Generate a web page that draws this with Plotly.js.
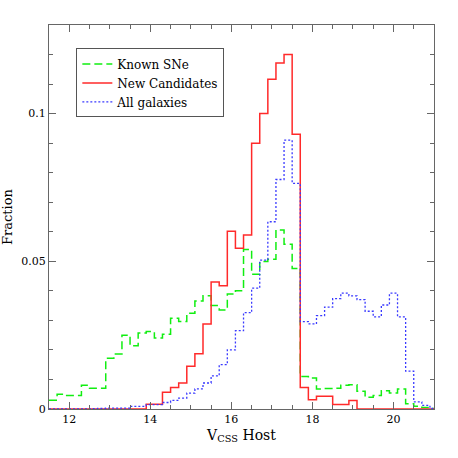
<!DOCTYPE html>
<html>
<head>
<meta charset="utf-8">
<script src="https://cdn.plot.ly/plotly-3.0.1.min.js"></script>
<style>
  body { margin: 0; background: #fff; }
  #grafico { width: 458px; height: 458px; }
</style>
</head>
<body>
<div id="grafico"></div>
<script>
// histogram bins: start and width in V_CSS magnitudes
const binStart = 11.5;
const binWidth = 0.2;

const serieNombres = ["Known SNe", "New Candidates", "All galaxies"];

// fraction per bin (bins from 11.5 to 21.1)
const knownSNe = [
  0.003, 0.005, 0.0046, 0.0046, 0.008, 0.007, 0.007, 0.0172, 0.0186, 0.025,
  0.0214, 0.0257, 0.0262, 0.024, 0.0253, 0.0307, 0.0296, 0.0324, 0.0366, 0.0383,
  0.035, 0.0335, 0.0389, 0.040, 0.054, 0.0456, 0.0499, 0.0507, 0.0606, 0.0558,
  0.0476, 0.011, 0.0105, 0.0068, 0.0069, 0.007, 0.008, 0.0082, 0.006, 0.004,
  0.0046, 0.0062, 0.0054, 0.0068, 0.0018, 0.0009, 0.0005, 0.0002
];
const newCandidates = [
  0, 0, 0, 0, 0, 0, 0, 0, 0, 0,
  0, 0, 0.0016, 0.0016, 0.0057, 0.0073, 0.0088, 0.0145, 0.0187, 0.0288,
  0.043, 0.0417, 0.0602, 0.0544, 0.0589, 0.090, 0.100, 0.1116, 0.1171, 0.120,
  0.093, 0.0073, 0.0031, 0.0043, 0.0043, 0.0015, 0.0015, 0.0029, 0, 0,
  0, 0, 0, 0, 0, 0, 0, 0
];
const allGalaxies = [
  0, 0, 0, 0, 0, 0.0001, 0.0002, 0.0003, 0.0003, 0.0003,
  0.0009, 0.0009, 0.0015, 0.0015, 0.0022, 0.0029, 0.0037, 0.0054, 0.0068, 0.0088,
  0.0112, 0.015, 0.020, 0.0265, 0.0326, 0.0409, 0.0504, 0.0634, 0.0777, 0.091,
  0.0764, 0.0296, 0.0288, 0.0316, 0.0345, 0.0374, 0.0392, 0.0383, 0.037, 0.0331,
  0.0312, 0.0352, 0.0392, 0.0312, 0.0128, 0.0024, 0.0012, 0.0002
];

function escalon(valores) {
  // x = bin edges, y = value of the bin on the right of each edge
  const x = valores.map((_, i) => binStart + i * binWidth);
  x.push(binStart + valores.length * binWidth);
  const y = valores.concat([valores[valores.length - 1]]);
  return { x: x, y: y };
}

const fuente = "DejaVu Serif, serif";

const s1 = escalon(knownSNe);
const s2 = escalon(newCandidates);
const s3 = escalon(allGalaxies);

const trazado = [
  {
    x: s1.x, y: s1.y, type: 'scatter', mode: 'lines', name: serieNombres[0],
    line: { shape: 'hv', color: '#11ee11', width: 1.5, dash: '8px,4px' }
  },
  {
    x: s2.x, y: s2.y, type: 'scatter', mode: 'lines', name: serieNombres[1],
    line: { shape: 'hv', color: '#ff2a2a', width: 1.5 }
  },
  {
    x: s3.x, y: s3.y, type: 'scatter', mode: 'lines', name: serieNombres[2],
    line: { shape: 'hv', color: '#3a3aff', width: 1.3, dash: '2px,2px' }
  }
];

const ejeComun = {
  showgrid: false,
  zeroline: false,
  showline: true,
  linecolor: '#666',
  linewidth: 1,
  mirror: 'allticks',
  ticks: 'inside',
  ticklen: 7,
  tickcolor: '#666',
  tickfont: { family: fuente, size: 11, color: '#000' }
};

const layout = {
  width: 458,
  height: 458,
  margin: { l: 49, r: 24, t: 25, b: 49 },
  paper_bgcolor: '#fff',
  plot_bgcolor: '#fff',
  showlegend: true,
  legend: {
    x: 0.071, y: 0.939, xanchor: 'left', yanchor: 'top',
    bordercolor: '#555', borderwidth: 1, bgcolor: '#fff',
    font: { family: fuente, size: 12, color: '#000' },
    tracegroupgap: 0
  },
  xaxis: Object.assign({}, ejeComun, {
    range: [11.5, 21.0],
    tick0: 12, dtick: 2,
    minor: { dtick: 0.5, ticks: 'inside', ticklen: 4, tickcolor: '#666' },
    title: { text: 'V<sub>CSS</sub> Host', font: { family: fuente, size: 14, color: '#000' }, standoff: 4 }
  }),
  yaxis: Object.assign({}, ejeComun, {
    range: [0, 0.13],
    tick0: 0, dtick: 0.05,
    minor: { dtick: 0.01, ticks: 'inside', ticklen: 4, tickcolor: '#666' },
    title: { text: 'Fraction', font: { family: fuente, size: 13, color: '#000' }, standoff: 8 }
  })
};

Plotly.newPlot('grafico', trazado, layout, { displayModeBar: false, staticPlot: true });
</script>
</body>
</html>
